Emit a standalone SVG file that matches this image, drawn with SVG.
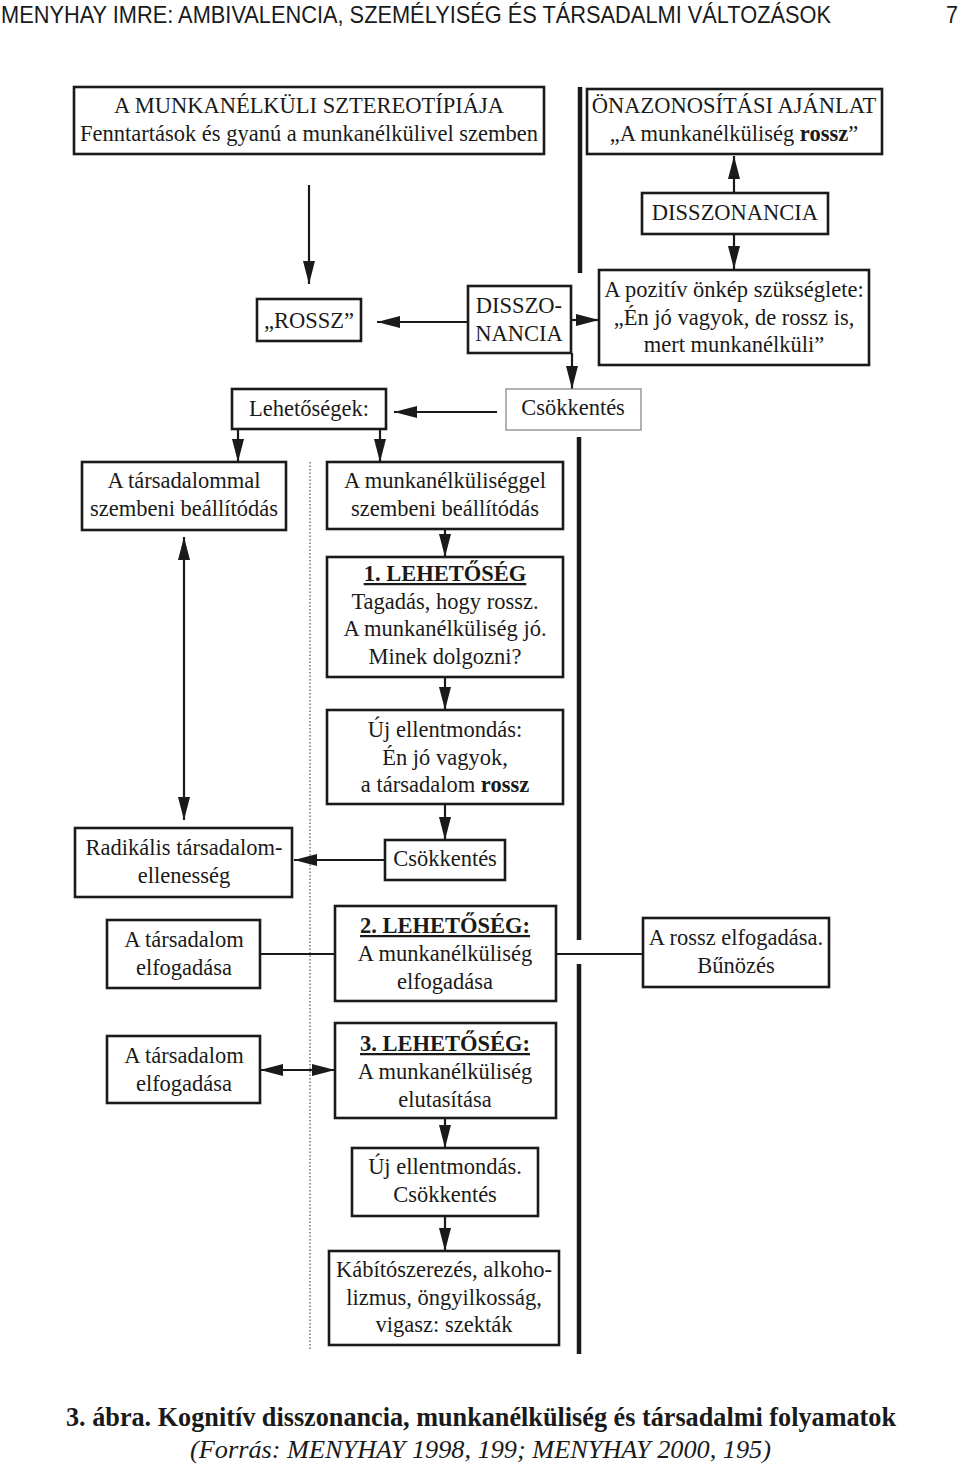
<svg xmlns="http://www.w3.org/2000/svg" width="960" height="1466" viewBox="0 0 960 1466">
<style>
.b{fill:#fff;stroke:#1a1a1a;stroke-width:2.6}
.bt{fill:#fff;stroke:#888;stroke-width:1.3}
.t{font-family:"Liberation Serif","Times New Roman",serif;font-size:22.5px;fill:#1a1a1a;text-anchor:middle}
.bd{font-weight:bold}
.u{font-weight:bold;text-decoration:underline}
.c{stroke:#1a1a1a;stroke-width:2.2;fill:none}
.thick{stroke:#1a1a1a;stroke-width:4.5;fill:none}
.dot{stroke:#555;stroke-width:1.2;stroke-dasharray:1.5 2;fill:none}
</style>
<defs>
<marker id="ah" markerUnits="userSpaceOnUse" markerWidth="26" markerHeight="14" refX="23" refY="6" orient="auto-start-reverse" viewBox="0 0 26 14">
<path d="M0,0 L23,6 L0,12 z" fill="#1a1a1a"/>
</marker>
</defs>
<rect width="960" height="1466" fill="#fff"/>

<g id="header">
<text x="1" y="23" font-family="'Liberation Sans',Arial,sans-serif" font-size="24" fill="#1a1a1a" textLength="830" lengthAdjust="spacingAndGlyphs">MENYHAY IMRE: AMBIVALENCIA, SZEMÉLYISÉG ÉS TÁRSADALMI VÁLTOZÁSOK</text>
<text x="958" y="23" font-family="'Liberation Sans',Arial,sans-serif" font-size="24" fill="#1a1a1a" text-anchor="end" textLength="12" lengthAdjust="spacingAndGlyphs">7</text>
</g>

<g id="separators">
<path class="thick" d="M580,87 V273 M579,437 V940 M579,964 V1354"/>
<path class="dot" d="M310,462 V1350"/>
</g>

<g id="connectors">
<path class="c" d="M309,185 V284" marker-end="url(#ah)"/>
<path class="c" d="M734,193 V156" marker-end="url(#ah)"/>
<path class="c" d="M734,234 V269" marker-end="url(#ah)"/>
<path class="c" d="M571,320 H599" marker-end="url(#ah)"/>
<path class="c" d="M468,322 H377" marker-end="url(#ah)"/>
<path class="c" d="M572,353 V389" marker-end="url(#ah)"/>
<path class="c" d="M497,412 H394" marker-end="url(#ah)"/>
<path class="c" d="M238,430 V462" marker-end="url(#ah)"/>
<path class="c" d="M380,430 V462" marker-end="url(#ah)"/>
<path class="c" d="M445,529 V557" marker-end="url(#ah)"/>
<path class="c" d="M445,677 V710" marker-end="url(#ah)"/>
<path class="c" d="M445,804 V840" marker-end="url(#ah)"/>
<path class="c" d="M385,860 H294" marker-end="url(#ah)"/>
<path class="c" d="M184,537 V820" marker-start="url(#ah)" marker-end="url(#ah)"/>
<path class="c" d="M260,954 H335"/>
<path class="c" d="M556,954 H643"/>
<path class="c" d="M260,1070 H335" marker-start="url(#ah)" marker-end="url(#ah)"/>
<path class="c" d="M445,1118 V1148" marker-end="url(#ah)"/>
<path class="c" d="M445,1216 V1251" marker-end="url(#ah)"/>
</g>

<g id="n-sztereotipia">
<rect class="b" x="74" y="87" width="470" height="67"/>
<text class="t" x="309" y="113">A MUNKANÉLKÜLI SZTEREOTÍPIÁJA</text>
<text class="t" x="309" y="141">Fenntartások és gyanú a munkanélkülivel szemben</text>
</g>

<g id="n-onazonositasi">
<rect class="b" x="587" y="89" width="295" height="65"/>
<text class="t" x="734" y="113">ÖNAZONOSÍTÁSI AJÁNLAT</text>
<text class="t" x="734" y="141">„A munkanélküliség <tspan class="bd">rossz</tspan>”</text>
</g>

<g id="n-disszonancia-top">
<rect class="b" x="642" y="193" width="186" height="41"/>
<text class="t" x="735" y="220">DISSZONANCIA</text>
</g>

<g id="n-pozitiv">
<rect class="b" x="599" y="270" width="270" height="95"/>
<text class="t" x="734" y="297">A pozitív önkép szükséglete:</text>
<text class="t" x="734" y="325">„Én jó vagyok, de rossz is,</text>
<text class="t" x="734" y="352">mert munkanélküli”</text>
</g>

<g id="n-disszo-nancia">
<rect class="b" x="468" y="286" width="103" height="67"/>
<text class="t" x="519" y="313">DISSZO-</text>
<text class="t" x="519" y="341">NANCIA</text>
</g>

<g id="n-rossz">
<rect class="b" x="257" y="299" width="104" height="42"/>
<text class="t" x="309" y="328">„ROSSZ”</text>
</g>

<g id="n-csokkentes-top">
<rect class="bt" x="506" y="389" width="135" height="41"/>
<text class="t" x="573" y="415">Csökkentés</text>
</g>

<g id="n-lehetosegek">
<rect class="b" x="232" y="389" width="154" height="40"/>
<text class="t" x="309" y="416">Lehetőségek:</text>
</g>

<g id="n-tarsadalommal">
<rect class="b" x="82" y="462" width="204" height="68"/>
<text class="t" x="184" y="488">A társadalommal</text>
<text class="t" x="184" y="516">szembeni beállítódás</text>
</g>

<g id="n-munkanelkuliseggel">
<rect class="b" x="327" y="462" width="236" height="67"/>
<text class="t" x="445" y="488">A munkanélküliséggel</text>
<text class="t" x="445" y="516">szembeni beállítódás</text>
</g>

<g id="n-lehetoseg1">
<rect class="b" x="327" y="557" width="236" height="120"/>
<text class="t u" x="445" y="581">1. LEHETŐSÉG</text>
<text class="t" x="445" y="609">Tagadás, hogy rossz.</text>
<text class="t" x="445" y="636">A munkanélküliség jó.</text>
<text class="t" x="445" y="664">Minek dolgozni?</text>
</g>

<g id="n-uj-ellentmondas1">
<rect class="b" x="327" y="710" width="236" height="94"/>
<text class="t" x="445" y="737">Új ellentmondás:</text>
<text class="t" x="445" y="765">Én jó vagyok,</text>
<text class="t" x="445" y="792">a társadalom <tspan class="bd">rossz</tspan></text>
</g>

<g id="n-csokkentes2">
<rect class="b" x="385" y="840" width="120" height="40"/>
<text class="t" x="445" y="866">Csökkentés</text>
</g>

<g id="n-radikalis">
<rect class="b" x="75" y="828" width="217" height="69"/>
<text class="t" x="184" y="855">Radikális társadalom-</text>
<text class="t" x="184" y="883">ellenesség</text>
</g>

<g id="n-tarsadalom-elfogadasa1">
<rect class="b" x="107" y="920" width="153" height="68"/>
<text class="t" x="184" y="947">A társadalom</text>
<text class="t" x="184" y="975">elfogadása</text>
</g>

<g id="n-lehetoseg2">
<rect class="b" x="335" y="906" width="221" height="95"/>
<text class="t u" x="445" y="933">2. LEHETŐSÉG:</text>
<text class="t" x="445" y="961">A munkanélküliség</text>
<text class="t" x="445" y="989">elfogadása</text>
</g>

<g id="n-rossz-elfogadasa">
<rect class="b" x="643" y="918" width="186" height="69"/>
<text class="t" x="736" y="945">A rossz elfogadása.</text>
<text class="t" x="736" y="973">Bűnözés</text>
</g>

<g id="n-tarsadalom-elfogadasa2">
<rect class="b" x="107" y="1036" width="153" height="67"/>
<text class="t" x="184" y="1063">A társadalom</text>
<text class="t" x="184" y="1091">elfogadása</text>
</g>

<g id="n-lehetoseg3">
<rect class="b" x="335" y="1023" width="221" height="95"/>
<text class="t u" x="445" y="1051">3. LEHETŐSÉG:</text>
<text class="t" x="445" y="1079">A munkanélküliség</text>
<text class="t" x="445" y="1107">elutasítása</text>
</g>

<g id="n-uj-ellentmondas2">
<rect class="b" x="352" y="1148" width="186" height="68"/>
<text class="t" x="445" y="1174">Új ellentmondás.</text>
<text class="t" x="445" y="1202">Csökkentés</text>
</g>

<g id="n-kabitoszerezes">
<rect class="b" x="329" y="1251" width="230" height="94"/>
<text class="t" x="444" y="1277">Kábítószerezés, alkoho-</text>
<text class="t" x="444" y="1305">lizmus, öngyilkosság,</text>
<text class="t" x="444" y="1332">vigasz: szekták</text>
</g>

<g id="caption">
<text x="66" y="1426" font-family="'Liberation Serif','Times New Roman',serif" font-size="28" font-weight="bold" fill="#1a1a1a" textLength="830" lengthAdjust="spacingAndGlyphs">3. ábra. Kognitív disszonancia, munkanélküliség és társadalmi folyamatok</text>
<text x="190" y="1458" font-family="'Liberation Serif','Times New Roman',serif" font-size="26" font-style="italic" fill="#1a1a1a" textLength="581" lengthAdjust="spacingAndGlyphs">(Forrás: MENYHAY 1998, 199; MENYHAY 2000, 195)</text>
</g>
</svg>
